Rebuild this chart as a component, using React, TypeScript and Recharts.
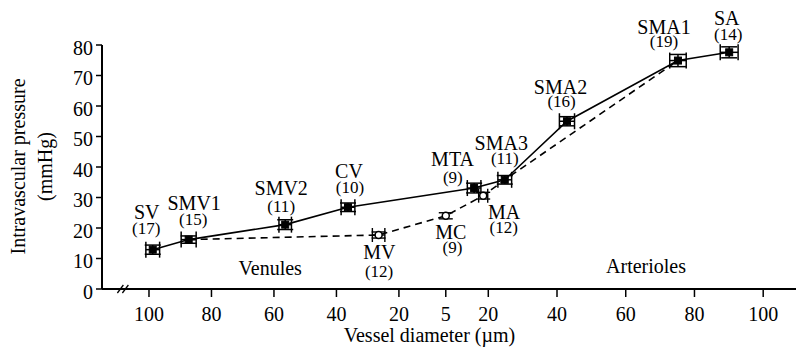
import { ComposedChart, Scatter, XAxis, YAxis, ErrorBar, ReferenceDot } from "recharts";

const VESSEL = ["SV", "SMV1", "SMV2", "CV", "MV", "MC", "MTA", "MA", "SMA3", "SMA2", "SMA1", "SA"];
const SIDE = ["v", "v", "v", "v", "v", "c", "a", "a", "a", "a", "a", "a"];
const DIAMETER = [98.8, 87.3, 56.4, 36.3, 26.5, 5, 15, 18.2, 24.8, 42.9, 75.2, 90.1];
const DIAMETER_SE = [2.2, 2.4, 2.0, 2.2, 2.0, 1.5, 2.4, 1.6, 2.0, 2.2, 2.4, 2.6];
const PRESSURE = [12.9, 16.2, 21.1, 26.8, 17.7, 24.0, 33.1, 30.6, 35.8, 55.0, 74.9, 77.6];
const PRESSURE_SE = [1.5, 1.2, 1.6, 1.4, 1.0, 1.0, 1.6, 1.1, 1.4, 1.5, 2.0, 1.8];
const N = [17, 15, 11, 10, 12, 9, 9, 12, 11, 16, 19, 14];

const SOLID_PATH = ["SV", "SMV1", "SMV2", "CV", "MTA", "SMA3", "SMA2", "SMA1", "SA"];
const DASHED_PATH = ["SMV1", "MV", "MC", "MA", "SMA3", "SMA1"];
const OPEN_POINTS = ["MV", "MC", "MA"];

const TICK_SIDE = ["v", "v", "v", "v", "v", "c", "a", "a", "a", "a", "a"];
const TICK_DIAMETER = [100, 80, 60, 40, 20, 5, 20, 40, 60, 80, 100];
const Y_TICKS = [0, 10, 20, 30, 40, 50, 60, 70, 80];

// venules run 100 -> 5 um left to right, arterioles 5 -> 100 um, slightly wider spacing
function axisPos(side: string, d: number) {
  if (side === "v") return 100 - d;
  if (side === "c") return 95;
  return d <= 20 ? 95 + (d - 5) * 0.907 : 108.6 + (d - 20) * 1.1;
}

const points = VESSEL.map((name, i) => {
  const u = axisPos(SIDE[i], DIAMETER[i]);
  return {
    name,
    n: N[i],
    u,
    p: PRESSURE[i],
    pErr: PRESSURE_SE[i],
    uErr: Math.abs(axisPos(SIDE[i], DIAMETER[i] + DIAMETER_SE[i]) - u),
  };
});
const pick = (names: string[]) => names.map((n) => points.find((p) => p.name === n)!);

const tickPositions = TICK_DIAMETER.map((d, i) => axisPos(TICK_SIDE[i], d));

// label centre offsets from the marker: [nameDx, nameDy, countDx, countDy]
const LABEL_OFFSET: Record<string, number[]> = {
  SV: [-6, -37, -6.5, -20],
  SMV1: [5.5, -36, 4.5, -19.5],
  SMV2: [-4, -36, -4, -17.5],
  CV: [1, -36, 2, -18.7],
  MV: [0.7, 17.7, 0.5, 37],
  MC: [5, 17, 6.7, 33],
  MTA: [-21.6, -28.3, -21.3, -10],
  MA: [21, 16.5, 20.6, 33],
  SMA3: [-3.5, -36, 0, -20],
  SMA2: [-6.5, -34.2, -5.4, -18.4],
  SMA1: [-14, -33.5, -14, -18.5],
  SA: [-2.5, -33.7, -1, -17],
};

const FONT = "'Liberation Serif', 'Times New Roman', serif";
const NAME_FS = 20;
const COUNT_FS = 17;

function Labels({ cx, cy, name, n }: any) {
  const o = LABEL_OFFSET[name];
  const y1 = cy + o[1] + NAME_FS * 0.33;
  const y2 = cy + o[3] + COUNT_FS * 0.27;
  return (
    <text fontFamily={FONT} fill="#000" textAnchor="middle">
      <tspan x={cx + o[0]} y={y1} fontSize={NAME_FS}>{name}</tspan>
      <tspan x={cx + o[2]} y={y2} fontSize={COUNT_FS}>({n})</tspan>
    </text>
  );
}

function SolidMarker(props: any) {
  const { cx, cy, payload } = props;
  return (
    <g>
      <rect x={cx - 3.5} y={cy - 3.5} width={7} height={7} fill="#000" stroke="#000" strokeWidth={1} />
      <Labels cx={cx} cy={cy} name={payload.name} n={payload.n} />
    </g>
  );
}

function OpenMarker(props: any) {
  const { cx, cy, payload } = props;
  return (
    <g>
      <circle cx={cx} cy={cy} r={3.5} fill="#fff" stroke="#000" strokeWidth={1.5} />
      <Labels cx={cx} cy={cy} name={payload.name} n={payload.n} />
    </g>
  );
}

function XTick({ x, y, index }: any) {
  return (
    <text x={x} y={y + 22} textAnchor="middle" fontFamily={FONT} fontSize={NAME_FS} fill="#000">
      {TICK_DIAMETER[index]}
    </text>
  );
}

function YTick({ x, y, payload }: any) {
  return (
    <text x={x - 1} y={y + 9.5} textAnchor="end" fontFamily={FONT} fontSize={NAME_FS} fill="#000">
      {payload.value}
    </text>
  );
}

function RegionText(text: string) {
  return ({ cx, cy }: any) => (
    <text x={cx} y={cy + NAME_FS * 0.33} textAnchor="middle" fontFamily={FONT} fontSize={NAME_FS} fill="#000">
      {text}
    </text>
  );
}

function AxisBreak({ cx, cy }: any) {
  return (
    <g stroke="#000" strokeWidth={1.3}>
      <line x1={cx - 6} y1={cy + 4} x2={cx} y2={cy - 4} />
      <line x1={cx - 1} y1={cy + 4} x2={cx + 5} y2={cy - 4} />
    </g>
  );
}

export default function App() {
  return (
    <div style={{ position: "absolute", left: 0, top: 0, width: 799, height: 347, background: "#fff" }}>
      <ComposedChart width={799} height={347} margin={{ top: 45, right: 3, bottom: 0, left: 0 }}>
        <XAxis
          type="number"
          dataKey="u"
          domain={[-15.04, 207.1]}
          ticks={tickPositions}
          interval={0}
          tick={<XTick />}
          tickSize={8}
          tickLine={{ stroke: "#000", strokeWidth: 1.5 }}
          axisLine={{ stroke: "#000", strokeWidth: 2 }}
          height={58}
        />
        <YAxis
          type="number"
          dataKey="p"
          domain={[0, 80]}
          ticks={Y_TICKS}
          tick={<YTick />}
          tickSize={6}
          tickLine={{ stroke: "#000", strokeWidth: 1.5 }}
          axisLine={{ stroke: "#000", strokeWidth: 2 }}
          width={102}
        />
        <Scatter
          data={pick(DASHED_PATH)}
          line={{ stroke: "#000", strokeWidth: 1.6, strokeDasharray: "7 5" }}
          shape={() => <g />}
          isAnimationActive={false}
        />
        <Scatter data={pick(OPEN_POINTS)} shape={<OpenMarker />} isAnimationActive={false}>
          <ErrorBar dataKey="pErr" direction="y" width={7} stroke="#000" strokeWidth={1.4} />
          <ErrorBar dataKey="uErr" direction="x" width={7} stroke="#000" strokeWidth={1.4} />
        </Scatter>
        <Scatter
          data={pick(SOLID_PATH)}
          line={{ stroke: "#000", strokeWidth: 1.6 }}
          shape={<SolidMarker />}
          isAnimationActive={false}
        >
          <ErrorBar dataKey="pErr" direction="y" width={8} stroke="#000" strokeWidth={1.5} />
          <ErrorBar dataKey="uErr" direction="x" width={8} stroke="#000" strokeWidth={1.5} />
        </Scatter>
        <ReferenceDot x={38.8} y={6.6} r={0} ifOverflow="visible" shape={RegionText("Venules")} />
        <ReferenceDot x={159.1} y={7.3} r={0} ifOverflow="visible" shape={RegionText("Arterioles")} />
        <ReferenceDot x={-8.2} y={0} r={0} ifOverflow="visible" shape={AxisBreak} />
      </ComposedChart>
      <svg width={799} height={347} style={{ position: "absolute", left: 0, top: 0, pointerEvents: "none" }}>
        <g fontFamily={FONT} fontSize={NAME_FS} fill="#000" textAnchor="middle">
          <text transform="translate(25,166.5) rotate(-90)">Intravascular pressure</text>
          <text transform="translate(52,166.5) rotate(-90)">(mmHg)</text>
          <text x={429.5} y={342}>Vessel diameter (µm)</text>
        </g>
      </svg>
    </div>
  );
}
